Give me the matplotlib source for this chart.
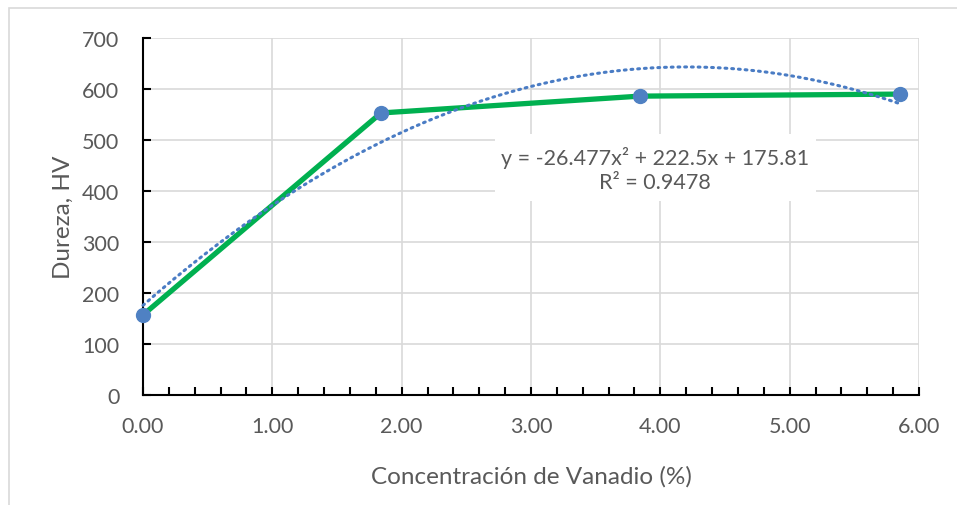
import numpy as np
import matplotlib
matplotlib.use("Agg")
import matplotlib.pyplot as plt
from matplotlib.ticker import MultipleLocator, FormatStrFormatter

# Data
concentracion = [0.0, 1.84, 3.84, 5.85]
dureza = [157, 553, 586, 590]
# Polynomial trendline coefficients as displayed on the chart (a2, a1, a0)
trend_coef = [-26.477, 222.5, 175.81]
eq_text = "y = -26.477x² + 222.5x + 175.81\nR² = 0.9478"
x_label = "Concentración de Vanadio (%)"
y_label = "Dureza, HV"

plt.rcParams['font.family'] = ['Lato', 'DejaVu Sans']
txt = '#595959'

fig = plt.figure(figsize=(9.57, 5.06), dpi=100)
W, H = 957, 506
ax = fig.add_axes([143 / W, 1 - 396 / H, (919 - 143) / W, (396 - 39) / H])

# Outer chart border
fig.patches.append(plt.Rectangle((9 / W, -0.01), 1.02, 1 - 9 / H + 0.01, transform=fig.transFigure,
                                 fill=False, edgecolor='#d9d9d9', linewidth=1.2))

xt = np.linspace(min(concentracion), max(concentracion), 200)
yt = np.polyval(trend_coef, xt)
ax.plot(concentracion, dureza, color='#00B050', linewidth=3.8, zorder=3,
        solid_capstyle='round', clip_on=False)
ax.plot(xt, yt, color='#4a7cc4', linewidth=2.2, linestyle=(0, (0.6, 1.6)),
        dash_capstyle='round', zorder=4, clip_on=False)
ax.plot(concentracion, dureza, linestyle='none', marker='o', markersize=10,
        color='#4f81c3', zorder=5, clip_on=False)

ax.set_xlim(0, 6)
ax.set_ylim(0, 700)
ax.xaxis.set_major_locator(MultipleLocator(1))
ax.xaxis.set_minor_locator(MultipleLocator(0.2))
ax.yaxis.set_major_locator(MultipleLocator(100))
ax.xaxis.set_major_formatter(FormatStrFormatter('%.2f'))
ax.grid(True, which='major', color='#d9d9d9', linewidth=1.2, zorder=0)
ax.set_axisbelow(True)
for s in ['top', 'right']:
    ax.spines[s].set_visible(False)
for s in ['left', 'bottom']:
    ax.spines[s].set_color('black')
    ax.spines[s].set_linewidth(1.5)
ax.tick_params(axis='both', which='both', direction='in', colors='black',
               labelcolor=txt, labelsize=15.5, width=1.5)
ax.tick_params(axis='both', which='major', length=6)
ax.tick_params(axis='x', which='minor', length=6, bottom=True)
ax.tick_params(axis='x', which='major', pad=15)
ax.tick_params(axis='y', which='major', pad=17)

ax.set_xlabel(x_label, fontsize=17.5, color=txt, labelpad=21)
ax.set_ylabel(y_label, fontsize=17.5, color=txt, labelpad=6)

# Equation label with white background box
ax.add_patch(plt.Rectangle((495 / W, 1 - 202 / H), (816 - 495) / W, (202 - 135) / H,
                           transform=fig.transFigure, facecolor='white',
                           edgecolor='none', zorder=2, clip_on=False))
ax.text(655 / W, 1 - 170 / H, eq_text, transform=fig.transFigure, ha='center', va='center',
        fontsize=15.5, color=txt, linespacing=1.25, zorder=6)

fig.savefig('out.png', dpi=100)
